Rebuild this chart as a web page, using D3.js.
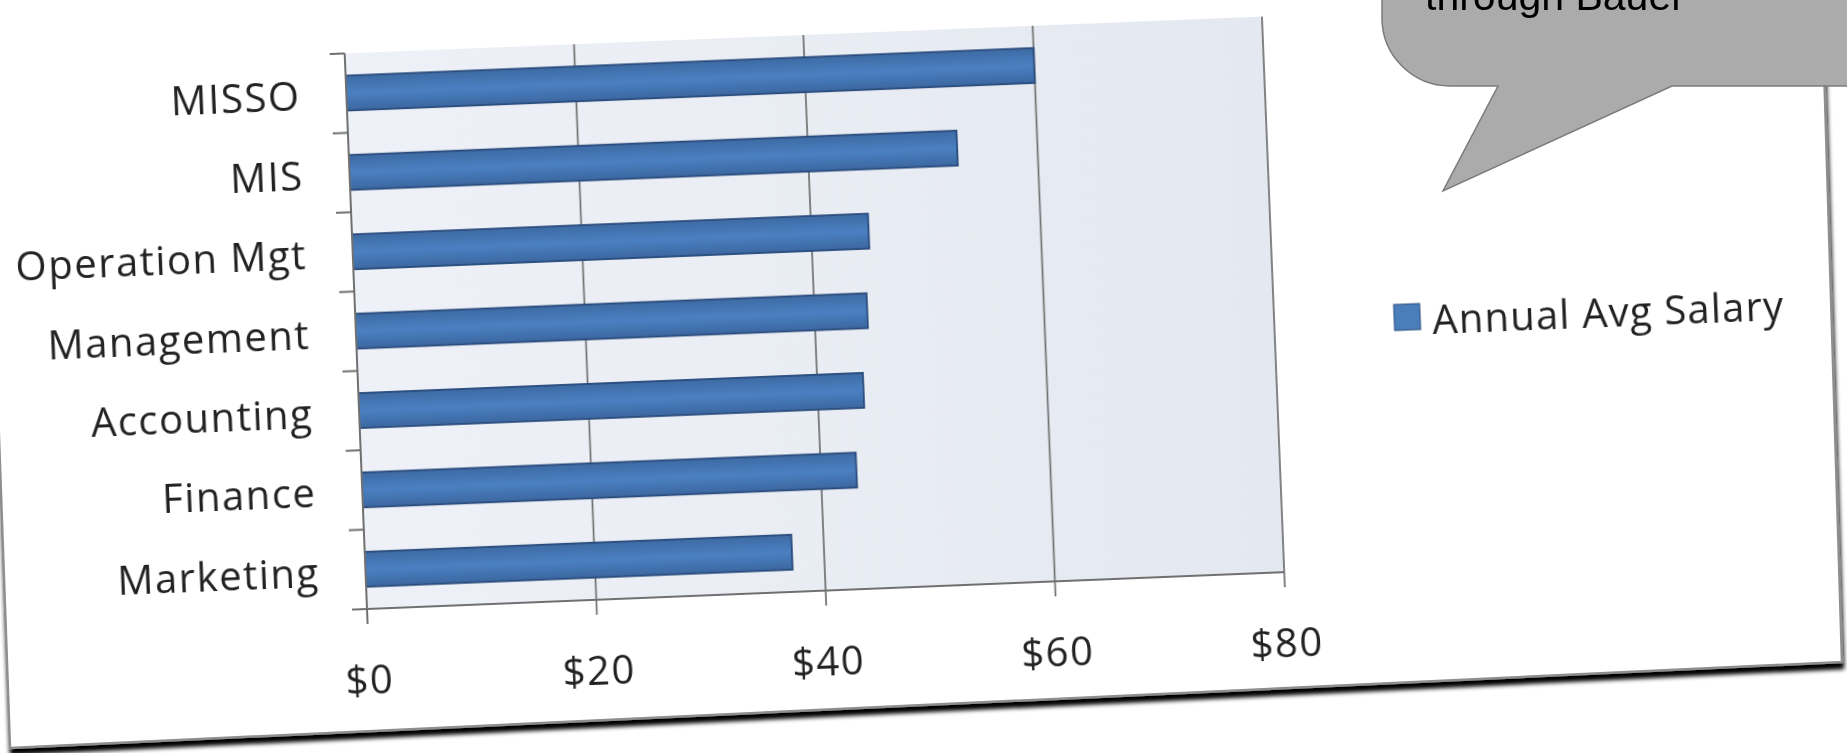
<!DOCTYPE html>
<html>
<head>
<meta charset="utf-8">
<script src="https://cdn.jsdelivr.net/npm/d3@7"></script>
<style>
  html, body { margin: 0; padding: 0; background: #ffffff; }
  svg { display: block; }
</style>
</head>
<body>
<svg id="chart" width="1847" height="753"></svg>
<script>
// ---- data ----
const categories = ["MISSO", "MIS", "Operation Mgt", "Management", "Accounting", "Finance", "Marketing"];
const salaries = [60, 53, 45, 44.6, 44, 43.1, 37.2];
const xTickValues = [0, 20, 40, 60, 80];
const xTickLabels = ["$0", "$20", "$40", "$60", "$80"];
const seriesName = "Annual Avg Salary";
const calloutText = "through Bauer";

// ---- layout ----
const svg = d3.select("#chart");
const W = 918, H = 556;
const tilt = -2.3;

const defs = svg.append("defs");
const shadow = defs.append("filter").attr("id", "cardShadow")
  .attr("x", "-5%").attr("y", "-5%").attr("width", "110%").attr("height", "110%");
shadow.append("feDropShadow").attr("dx", 1).attr("dy", 6).attr("stdDeviation", 2.2)
  .attr("flood-color", "#000").attr("flood-opacity", 1);

const soft = defs.append("filter").attr("id", "soft")
  .attr("x", "-5%").attr("y", "-5%").attr("width", "110%").attr("height", "110%");
soft.append("feGaussianBlur").attr("stdDeviation", 0.6);

const plotGrad = defs.append("linearGradient").attr("id", "plotBg")
  .attr("x1", "0%").attr("x2", "100%").attr("y1", "0%").attr("y2", "0%");
plotGrad.append("stop").attr("offset", "0%").attr("stop-color", "#eef1f7");
plotGrad.append("stop").attr("offset", "100%").attr("stop-color", "#e4e8f0");

const barGrad = defs.append("linearGradient").attr("id", "barFill")
  .attr("x1", "0%").attr("x2", "0%").attr("y1", "0%").attr("y2", "100%");
barGrad.append("stop").attr("offset", "0%").attr("stop-color", "#3e6aa3");
barGrad.append("stop").attr("offset", "50%").attr("stop-color", "#4a80c2");
barGrad.append("stop").attr("offset", "100%").attr("stop-color", "#3c67a0");

svg.append("rect").attr("width", 1847).attr("height", 753).attr("fill", "#fff");

// card (the photographed chart sheet)
svg.append("polygon")
  .attr("points", "-20,-100 1819,-100 1842,662 10,748")
  .attr("fill", "#ffffff").attr("stroke", "#8e8e8e").attr("stroke-width", 2.5)
  .attr("stroke-linejoin", "round")
  .attr("filter", "url(#cardShadow)");

// chart group
const g = svg.append("g")
  .attr("transform", `translate(367,609) rotate(${tilt}) translate(0,${-H})`)
  .attr("filter", "url(#soft)");

const x = d3.scaleLinear().domain([0, 80]).range([0, W]);
const y = d3.scaleBand().domain(categories).range([0, H]).paddingInner(0.56).paddingOuter(0.28);
const step = H / categories.length;

g.append("rect").attr("width", W).attr("height", H).attr("fill", "url(#plotBg)");

// gridlines + bottom ticks
g.selectAll("line.grid").data(xTickValues).join("line")
  .attr("class", "grid")
  .attr("x1", d => x(d)).attr("x2", d => x(d))
  .attr("y1", d => d === 0 ? H : 0).attr("y2", H + 15)
  .attr("stroke", "#6f6f6f").attr("stroke-width", 1.7);

// bars
g.selectAll("rect.bar").data(categories).join("rect")
  .attr("class", "bar")
  .attr("x", 0)
  .attr("y", d => y(d))
  .attr("width", (d, i) => x(salaries[i]))
  .attr("height", y.bandwidth())
  .attr("fill", "url(#barFill)")
  .attr("stroke", "#2a4c7c").attr("stroke-width", 1.8);

// axes lines
g.append("line").attr("x1", 0).attr("x2", W).attr("y1", H).attr("y2", H)
  .attr("stroke", "#6f6f6f").attr("stroke-width", 2);
g.append("line").attr("x1", 0).attr("x2", 0).attr("y1", 0).attr("y2", H + 15)
  .attr("stroke", "#6f6f6f").attr("stroke-width", 2);
g.selectAll("line.cattick").data(d3.range(categories.length + 1)).join("line")
  .attr("class", "cattick")
  .attr("x1", -15).attr("x2", 0)
  .attr("y1", d => d * step).attr("y2", d => d * step)
  .attr("stroke", "#6f6f6f").attr("stroke-width", 2);

// category labels
g.selectAll("text.cat").data(categories).join("text")
  .attr("class", "cat")
  .attr("x", -46)
  .attr("y", d => y(d) + y.bandwidth() / 2)
  .attr("text-anchor", "end")
  .attr("dominant-baseline", "central")
  .attr("font-family", "'Open Sans', sans-serif")
  .attr("font-size", 40)
  .attr("letter-spacing", 1.5)
  .attr("fill", "#222")
  .text(d => d);

// x tick labels
g.selectAll("text.xt").data(xTickValues).join("text")
  .attr("class", "xt")
  .attr("x", d => x(d))
  .attr("y", H + 69)
  .attr("text-anchor", "middle")
  .attr("dominant-baseline", "central")
  .attr("font-family", "'Open Sans', sans-serif")
  .attr("font-size", 40)
  .attr("letter-spacing", 1.5)
  .attr("fill", "#222")
  .text((d, i) => xTickLabels[i]);

// legend
const leg = g.append("g").attr("transform", `translate(${W + 120},${H - 250})`);
leg.append("rect").attr("x", 0).attr("y", -13).attr("width", 26).attr("height", 26)
  .attr("fill", "#4a7ebb").attr("stroke", "#2a4c7c").attr("stroke-width", 1);
leg.append("text").attr("x", 38).attr("y", 2)
  .attr("dominant-baseline", "central")
  .attr("font-family", "'Open Sans', sans-serif")
  .attr("font-size", 40)
  .attr("letter-spacing", 1.2)
  .attr("fill", "#222")
  .text(seriesName);

// callout bubble (overlay, not tilted)
svg.append("path")
  .attr("d", "M1382,-60 V18 A68,68 0 0 0 1450,86 H1498 L1443,191 L1672,86 H1900 V-60 Z")
  .attr("fill", "#ababab").attr("stroke", "#7c7c7c").attr("stroke-width", 1.5);
svg.append("text")
  .attr("x", 1425).attr("y", 10)
  .attr("font-family", "'Liberation Sans', Arial, sans-serif")
  .attr("font-size", 41)
  .attr("fill", "#000")
  .text(calloutText);
</script>
</body>
</html>
